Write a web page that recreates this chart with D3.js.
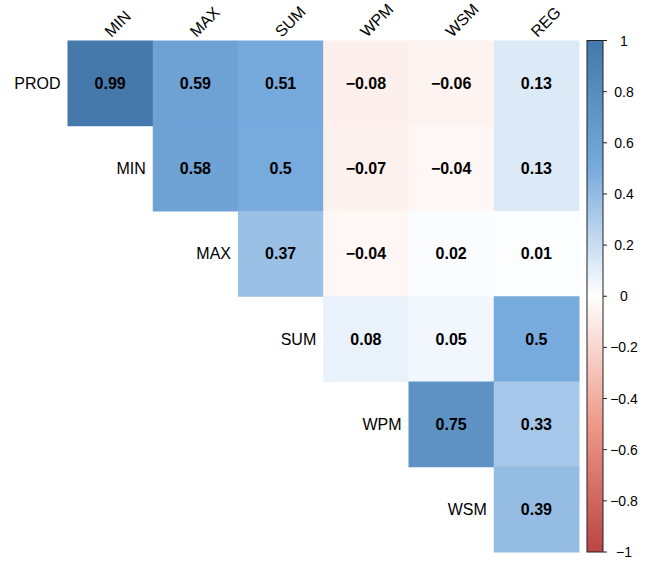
<!DOCTYPE html>
<html>
<head>
<meta charset="utf-8">
<script src="https://cdn.jsdelivr.net/npm/d3@7"></script>
<style>
  body { margin: 0; background: #fff; }
  text { font-family: "Liberation Sans", Arial, sans-serif; }
</style>
</head>
<body>
<svg width="646" height="562"></svg>
<script>
// row / column names of the upper-triangle correlation matrix
const rowNames = ['PROD', 'MIN', 'MAX', 'SUM', 'WPM', 'WSM'];
const colNames = ['MIN', 'MAX', 'SUM', 'WPM', 'WSM', 'REG'];

// values per row, starting at the diagonal column
const prodRow = [0.99, 0.59, 0.51, -0.08, -0.06, 0.13];
const minRow = [0.58, 0.5, -0.07, -0.04, 0.13];
const maxRow = [0.37, -0.04, 0.02, 0.01];
const sumRow = [0.08, 0.05, 0.5];
const wpmRow = [0.75, 0.33];
const wsmRow = [0.39];
const rowValues = [prodRow, minRow, maxRow, sumRow, wpmRow, wsmRow];

const legendTicks = [1, 0.8, 0.6, 0.4, 0.2, 0, -0.2, -0.4, -0.6, -0.8, -1];

// palette stops (corrplot style)
const paletteStops = [-1, -0.5, 0, 0.5, 1];
const paletteColors = ['#BB4444', '#EE9988', '#FFFFFF', '#77AADD', '#4477AA'];

const svg = d3.select('svg');

const x = d3.scaleBand().domain(colNames).range([67.5, 579]);
const y = d3.scaleBand().domain(rowNames).range([40.5, 552]);
const color = d3.scaleLinear().domain(paletteStops).range(paletteColors);

// flatten to cells
let cells = [];
rowValues.forEach((vals, i) => {
  vals.forEach((v, k) => {
    cells.push({ row: rowNames[i], col: colNames[i + k], value: v });
  });
});

const fmt = v => (v < 0 ? '\u2212' : '') + String(Math.abs(v));

svg.selectAll('rect.cell')
  .data(cells)
  .join('rect')
  .attr('class', 'cell')
  .attr('x', d => x(d.col))
  .attr('y', d => y(d.row))
  .attr('width', x.bandwidth() + 0.5)
  .attr('height', y.bandwidth() + 0.5)
  .attr('fill', d => color(d.value));

svg.selectAll('text.val')
  .data(cells)
  .join('text')
  .attr('class', 'val')
  .attr('x', d => x(d.col) + x.bandwidth() / 2)
  .attr('y', d => y(d.row) + y.bandwidth() / 2)
  .attr('text-anchor', 'middle')
  .attr('dy', '0.36em')
  .attr('font-size', 16)
  .attr('font-weight', 'bold')
  .text(d => fmt(d.value));

// row labels, placed left of the first cell of each row
svg.selectAll('text.rowlab')
  .data(rowNames)
  .join('text')
  .attr('class', 'rowlab')
  .attr('x', (d, i) => x(colNames[i]) - 7)
  .attr('y', d => y(d) + y.bandwidth() / 2)
  .attr('text-anchor', 'end')
  .attr('dy', '0.36em')
  .attr('font-size', 16)
  .text(d => d);

// column labels, rotated 45 degrees
svg.selectAll('text.collab')
  .data(colNames)
  .join('text')
  .attr('class', 'collab')
  .attr('transform', d => `translate(${x(d) + x.bandwidth() / 2 + 1},38) rotate(-45)`)
  .attr('font-size', 16)
  .text(d => d);

// colour legend
const legendY = d3.scaleLinear().domain([-1, 1]).range([552, 40.5]);
const grad = svg.append('defs').append('linearGradient')
  .attr('id', 'grad')
  .attr('x1', 0).attr('y1', 1).attr('x2', 0).attr('y2', 0);
paletteStops.forEach((s, i) => {
  grad.append('stop')
    .attr('offset', (s + 1) / 2)
    .attr('stop-color', paletteColors[i]);
});

svg.append('rect')
  .attr('x', 587)
  .attr('y', legendY(1))
  .attr('width', 16)
  .attr('height', legendY(-1) - legendY(1))
  .attr('fill', 'url(#grad)')
  .attr('stroke', '#222')
  .attr('stroke-width', 1);

svg.selectAll('line.tick')
  .data(legendTicks)
  .join('line')
  .attr('class', 'tick')
  .attr('x1', 603).attr('x2', 607)
  .attr('y1', d => legendY(d)).attr('y2', d => legendY(d))
  .attr('stroke', '#222');

svg.selectAll('text.leg')
  .data(legendTicks)
  .join('text')
  .attr('class', 'leg')
  .attr('x', 624)
  .attr('y', d => legendY(d))
  .attr('dy', '0.36em')
  .attr('text-anchor', 'middle')
  .attr('font-size', 14)
  .text(d => fmt(d));
</script>
</body>
</html>
